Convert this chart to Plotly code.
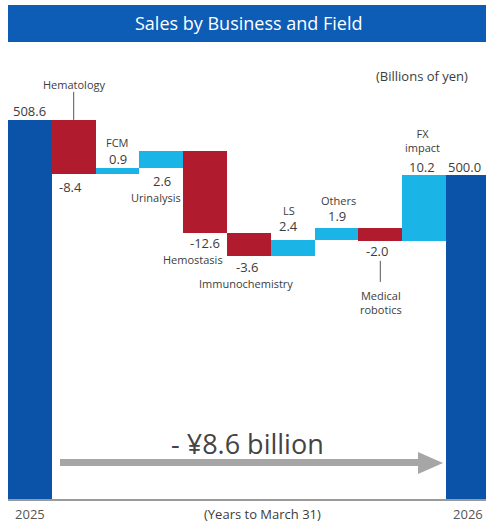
import plotly.graph_objects as go

# Sales bridge FY2025 -> FY2026 (billions of yen)
categories = ["2025", "Hematology", "FCM", "Urinalysis", "Hemostasis",
              "Immunochemistry", "LS", "Others", "Medical robotics",
              "FX impact", "2026"]
values = [508.6, -8.4, 0.9, 2.6, -12.6, -3.6, 2.4, 1.9, -2.0, 10.2, 500.0]
measures = ["absolute"] + ["relative"] * 9 + ["total"]
tick_labels = ["2025", "2026"]

FONT = "Open Sans"
TXT = "#3c3c3c"
NAVY = "#0b53a8"
RED = "#b01c2d"
SKY = "#1ab4e6"
GRAY = "#a6a6a6"

xs = list(range(len(categories)))

# running edges of each bar
tops, bottoms = [], []
run = 0.0
for m, v in zip(measures, values):
    if m == "absolute":
        lo, hi = 0.0, v
        run = v
    elif m == "total":
        lo, hi = 0.0, run
    else:
        lo, hi = sorted([run, run + v])
        run += v
    tops.append(hi)
    bottoms.append(lo)

fig = go.Figure(go.Waterfall(
    x=xs, y=values, measure=measures,
    increasing=dict(marker=dict(color=SKY)),
    decreasing=dict(marker=dict(color=RED)),
    totals=dict(marker=dict(color=NAVY)),
    connector=dict(visible=False),
    textinfo="none", hoverinfo="skip",
))

W, H = 486, 525
ML, MR, MT, MB = 8, 0, 60, 26
PW, PH = W - ML - MR, H - MT - MB


def px(x):
    return (x - ML) / PW


def py(y):
    return (H - MB - y) / PH


def fmt(v):
    return f"{v:.1f}"


anns = []


def lab(i, edge, text, size, yshift, xshift=0):
    anns.append(dict(x=xs[i], y=edge, xref="x", yref="y", text=text,
                     showarrow=False, xanchor="center", yanchor="middle",
                     yshift=yshift, xshift=xshift,
                     font=dict(family=FONT, size=size, color=TXT)))


NUM, NAME = 13, 11

# value and name labels for each step
lab(0, tops[0], fmt(values[0]), NUM, 9)
lab(1, tops[1], categories[1], NAME, 35)
lab(1, bottoms[1], fmt(values[1]), NUM, -13, -3)
lab(2, tops[2], categories[2], NAME, 26)
lab(2, tops[2], fmt(values[2]), NUM, 9)
lab(3, bottoms[3], fmt(values[3]), NUM, -13, 1)
lab(3, bottoms[3], categories[3], NAME, -29, -5)
lab(4, bottoms[4], fmt(values[4]), NUM, -10)
lab(4, bottoms[4], categories[4], NAME, -27, -12)
lab(5, bottoms[5], fmt(values[5]), NUM, -11, -2)
lab(5, bottoms[5], categories[5], NAME, -28, -3)
lab(6, tops[6], categories[6], NAME, 30, -4)
lab(6, tops[6], fmt(values[6]), NUM, 14, -4)
lab(7, tops[7], categories[7], NAME, 28, 2)
lab(7, tops[7], fmt(values[7]), NUM, 12)
lab(8, bottoms[8], fmt(values[8]), NUM, -10, -3)
lab(8, bottoms[8], "Medical<br>robotics", NAME, -62, 1)
lab(9, tops[9], "FX<br>impact", NAME, 35, -2)
lab(9, tops[9], fmt(values[9]), NUM, 8, -2)
lab(10, tops[10], fmt(tops[10]), NUM, 8, -3)

# overall change caption
change = tops[-1] - values[0]
anns.append(dict(x=px(247), y=py(443), xref="paper", yref="paper",
                 text=f"- ¥{abs(change):.1f} billion", showarrow=False,
                 xanchor="center", yanchor="middle",
                 font=dict(family=FONT, size=27, color="#444444")))

# title banner text and side notes
anns.append(dict(x=px(248), y=py(23.5), xref="paper", yref="paper",
                 text="Sales by Business and Field", showarrow=False,
                 xanchor="center", yanchor="middle",
                 font=dict(family=FONT, size=18, color="white")))
anns.append(dict(x=px(422), y=py(76), xref="paper", yref="paper",
                 text="(Billions of yen)", showarrow=False,
                 xanchor="center", yanchor="middle",
                 font=dict(family=FONT, size=13, color=TXT)))
anns.append(dict(x=px(262), y=py(514), xref="paper", yref="paper",
                 text="(Years to March 31)", showarrow=False,
                 xanchor="center", yanchor="middle",
                 font=dict(family=FONT, size=13, color=TXT)))

shapes = [
    # banner
    dict(type="rect", xref="paper", yref="paper",
         x0=px(8), x1=px(486), y0=py(42), y1=py(5),
         fillcolor="#0d5cb6", line=dict(width=0), layer="below"),
    # leader lines
    dict(type="line", xref="x", yref="y", ysizemode="pixel",
         yanchor=tops[1], x0=xs[1], x1=xs[1], y0=0, y1=28,
         line=dict(color="#555555", width=1)),
    dict(type="line", xref="x", yref="y", ysizemode="pixel",
         yanchor=bottoms[8], x0=xs[8], x1=xs[8], y0=-20, y1=-41,
         line=dict(color="#555555", width=1)),
    # grey arrow shaft and head
    dict(type="rect", xref="paper", yref="paper",
         x0=px(60), x1=px(419), y0=py(466), y1=py(459),
         fillcolor=GRAY, line=dict(width=0)),
    dict(type="path", xref="paper", yref="paper",
         path=(f"M {px(418)},{py(452)} L {px(443)},{py(463)} "
               f"L {px(418)},{py(474)} Z"),
         fillcolor=GRAY, line=dict(width=0)),
]

fig.update_layout(
    width=W, height=H, autosize=False,
    margin=dict(l=ML, r=MR, t=MT, b=MB, pad=0),
    paper_bgcolor="white", plot_bgcolor="white",
    waterfallgap=0, showlegend=False,
    annotations=anns, shapes=shapes,
    xaxis=dict(range=[-0.5, -0.5 + PW / 43.8], tickmode="array",
               tickvals=[xs[0], xs[-1]], ticktext=tick_labels,
               showgrid=False, zeroline=False, showline=True,
               linecolor="#9a9a9a", linewidth=1.5, layer="below traces",
               ticks="", ticklabelstandoff=3,
               tickfont=dict(family=FONT, size=13, color="#555555")),
    yaxis=dict(range=[449.7, 517.9], visible=False, showgrid=False,
               zeroline=False),
)

fig.write_html("out.html")
